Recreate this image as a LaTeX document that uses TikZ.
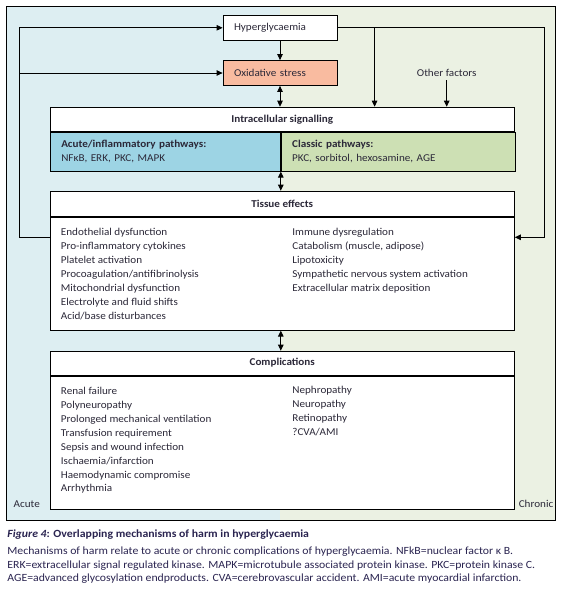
\documentclass[tikz,border=0pt]{standalone}
\usepackage{fontspec}
\setmainfont{Carlito}[FakeStretch=1.06]
\newfontfamily\capfont{Carlito}[FakeStretch=1.07]
\usepackage{tikz}
\usetikzlibrary{positioning,arrows.meta,calc}
\definecolor{hgacute}{HTML}{DDEEF2}
\definecolor{hgchron}{HTML}{EBF1E3}
\definecolor{hgblue}{HTML}{9DD4E4}
\definecolor{hggreen}{HTML}{CDE0B4}
\definecolor{hgsalmon}{HTML}{F9BBA0}
\definecolor{hgtext}{HTML}{2B2838}
\definecolor{hgcap}{HTML}{2A2450}

\begin{document}
\begin{tikzpicture}[x=1pt,y=-1pt,>={Triangle[length=6pt,width=5.5pt]},
  font=\fontsize{10.5}{13.9}\selectfont,text=hgtext,line width=0.8pt,
  bx/.style={rectangle,draw=black,fill=white,minimum width=114pt,minimum height=25pt,text width=92pt,inner xsep=11pt,align=left},
  hd/.style={rectangle,draw=black,fill=white,minimum width=464.3pt,anchor=north west,font=\fontsize{10.5}{13.9}\selectfont\bfseries},
  sub/.style={rectangle,draw=black,minimum height=38.7pt,anchor=north west,align=left,inner xsep=10.8pt},
  bod/.style={rectangle,draw=black,fill=white,minimum width=464.3pt,anchor=north west},
  lst/.style={anchor=north west,align=left,inner sep=0pt},
  ar/.style={->},
  dar/.style={<->}]
  \useasboundingbox (0,0) rectangle (563,600);
  % acute / chronic background
  \fill[hgacute] (6.5,6) rectangle (280,520);
  \fill[hgchron] (280,6) rectangle (555,520);
  \draw (6.5,6) rectangle (555,520);
  \node[anchor=west] (acl) at (10,504) {Acute};
  \node[anchor=east] (chl) at (557,504) {Chronic};

  % top boxes
  \node[bx] (hyp) at (280,27.8) {Hyperglycaemia};
  \node[bx,fill=hgsalmon] (oxi) at (280,73) {Oxidative stress};
  \node (oth) at (446.7,73) {Other factors};

  % intracellular signalling
  \node[hd,minimum height=24.6pt] (sig) at (49.7,106.7) {Intracellular signalling};
  \node[sub,fill=hgblue,minimum width=230.3pt,text width=208pt] (acu) at (sig.south west)
    {\textbf{Acute/inflammatory pathways:}\\NFκB, ERK, PKC, MAPK};
  \node[sub,fill=hggreen,minimum width=234pt,text width=212pt] (cla) at (acu.north east)
    {\textbf{Classic pathways:}\\PKC, sorbitol, hexosamine, AGE};

  % tissue effects
  \node[hd,minimum height=25.3pt] (tis) at (49.7,190.7) {Tissue effects};
  \node[bod,minimum height=113pt] (tisb) at (tis.south west) {};
  \node[lst] (tisl) at (60.5,228) {Endothelial dysfunction\\Pro-inflammatory cytokines\\Platelet activation\\Procoagulation/antifibrinolysis\\Mitochondrial dysfunction\\Electrolyte and fluid shifts\\Acid/base disturbances};
  \node[lst] (tisr) at (292,228) {Immune dysregulation\\Catabolism (muscle, adipose)\\Lipotoxicity\\Sympathetic nervous system activation\\Extracellular matrix deposition};

  % complications
  \node[hd,minimum height=24pt] (cmp) at (49.7,350.7) {Complications};
  \node[bod,minimum height=133pt] (cmpb) at (cmp.south west) {};
  \node[lst] (cmpl) at (60.5,387) {Renal failure\\Polyneuropathy\\Prolonged mechanical ventilation\\Transfusion requirement\\Sepsis and wound infection\\Ischaemia/infarction\\Haemodynamic compromise\\Arrhythmia};
  \node[lst] (cmpr) at (292,386) {Nephropathy\\Neuropathy\\Retinopathy\\?CVA/AMI};

  % connectors
  \coordinate (fbl) at (19.8,237.3);
  \coordinate (fbr) at (544,237.3);
  \coordinate (brk) at (374.6,27.8);
  \draw[ar] (hyp) -- (oxi);
  \draw[dar] (oxi.south) -- (oxi.south |- sig.north);
  \draw[dar] (acu.south east) -- (acu.south east |- tis.north);
  \draw[dar] (acu.south east |- tisb.south) -- (acu.south east |- cmp.north);
  \draw[ar] (tisb.west |- fbl) -- (fbl) |- (hyp.west);
  \draw[ar] (fbl |- oxi.west) -- (oxi.west);
  \draw[ar] (hyp.east) -| (fbr) -- (tisb.east |- fbr);
  \draw[ar] (brk) -- (brk |- sig.north);
  \draw[ar] (oth.south) -- (oth.south |- sig.north);

  % caption
  \node[anchor=north west,align=left,inner sep=0pt,text=hgcap,font=\capfont\fontsize{11}{13.7}\selectfont] (cap) at (7,529)
    {\textbf{\textit{Figure 4}: Overlapping mechanisms of harm in hyperglycaemia}\\[3.5pt]
     Mechanisms of harm relate to acute or chronic complications of hyperglycaemia. NFkB=nuclear factor κ B.\\
     ERK=extracellular signal regulated kinase. MAPK=microtubule associated protein kinase. PKC=protein kinase C.\\
     AGE=advanced glycosylation endproducts. CVA=cerebrovascular accident. AMI=acute myocardial infarction.};
\end{tikzpicture}
\end{document}
